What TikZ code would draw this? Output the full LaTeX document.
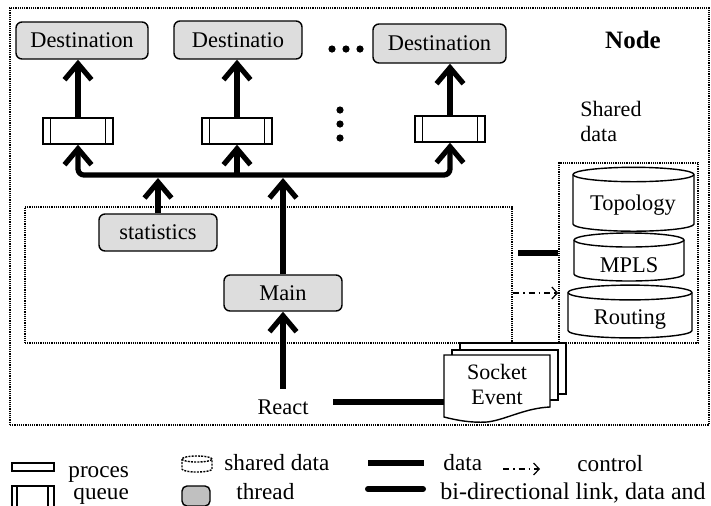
\documentclass[tikz,border=0pt]{standalone}
\usepackage{fontspec}
\setmainfont{Liberation Serif}
\usetikzlibrary{arrows.meta,calc}
\definecolor{boxgray}{HTML}{DDDDDD}
\definecolor{legendgray}{HTML}{C0C0C0}

\begin{document}
\begin{tikzpicture}[x=0.5pt,y=-0.5pt,
  font=\fontsize{11.2}{13}\selectfont,
  thin line/.style={line width=0.7pt},
  thread/.style={draw, thin line, rounded corners=3pt, fill=boxgray, inner sep=0pt},
  queuebox/.style={draw, thin line, fill=white, minimum width=35pt, minimum height=13pt, inner sep=0pt,
    path picture={\draw[thin line]
      ([xshift=3.7pt]path picture bounding box.north west) -- ([xshift=3.7pt]path picture bounding box.south west)
      ([xshift=-3.7pt]path picture bounding box.north east) -- ([xshift=-3.7pt]path picture bounding box.south east);}},
  dotbox/.style={draw, line width=0.8pt, dash pattern=on 0.6pt off 0.5pt, inner sep=0pt},
  heavy/.style={line width=2.6pt},
  arr/.style={heavy, -{Straight Barb[length=8pt,width=13.5pt]}},
  ctl/.style={line width=0.6pt, dash pattern=on 3pt off 2pt on 0.8pt off 2pt,
    -{Straight Barb[length=2.8pt,width=6pt,line width=0.6pt]}},
  cyl/.style={draw, thin line, fill=white},
  legend/.style={font=\fontsize{11.6}{14}\selectfont, anchor=base west, inner sep=0pt},
]
\useasboundingbox (0,0) rectangle (711,505);

% enclosing node frame and its inner regions
\node[dotbox, minimum width=349.5pt, minimum height=208.5pt] (outer) at (359.5,216.5) {};
\node[dotbox, minimum width=243.5pt, minimum height=68pt] (inner) at (268.5,275) {};
\node[dotbox, minimum width=69.5pt, minimum height=90pt] (shared) at (628.5,253) {};

\node[font=\bfseries\fontsize{12.5}{15}\selectfont] (nodelabel) at (633,40) {Node};
\node[anchor=west, align=left, inner sep=0pt, font=\fontsize{11}{12.5}\selectfont] (sharedtitle) at (580,121) {Shared\\data};

% destination threads
\node[thread, minimum width=66pt, minimum height=18.5pt] (d1) at (82,40.5) {Destination};
\node[thread, minimum width=64pt, minimum height=19pt] (d2) at (238,40) {Destinatio};
\node[thread, minimum width=66.5pt, minimum height=19.5pt] (d3) at (439.5,43.5) {Destination};

% queues
\node[queuebox] (q1) at (78,131) {};
\node[queuebox] (q2) at (237,131) {};
\node[queuebox] (q3) at (450,129) {};

% ellipsis dots
\foreach \x in {332,346,360} \fill (\x,49) circle[radius=1.8pt];
\foreach \y in {110,124,138} \fill (340,\y) circle[radius=1.8pt];

% queue to destination
\draw[arr] (q1.north) -- (q1.north |- d1.south);
\draw[arr] (q2.north) -- (q2.north |- d2.south);
\draw[arr] (q3.north) -- (q3.north |- d3.south);

% distribution bus
\coordinate (bus) at (0,175);
\draw[heavy, rounded corners=3pt, {Straight Barb[length=8pt,width=13.5pt]}-{Straight Barb[length=8pt,width=13.5pt]}]
  (q1.south) -- (q1.south |- bus) -- (q3.south |- bus) -- (q3.south);
\draw[arr] (q2.south |- bus) -- (q2.south);

% worker threads
\node[thread, minimum width=59pt, minimum height=18.5pt] (stats) at (158,232.5) {statistics};
\node[thread, minimum width=59pt, minimum height=18pt] (main) at (283,293) {Main};
\draw[arr, shorten >=1.5pt] (stats.north) -- (stats.north |- bus);
\draw[arr, shorten >=1.5pt] (main.north) -- (main.north |- bus);

\node (react) at (283,407) {React};
\draw[arr, shorten <=2pt] (react.north) -- (main.south);

% shared data stores
\draw[cyl] (573,174.5) -- (573,224) arc[start angle=180,end angle=360,x radius=30.25pt,y radius=3.6pt]
  -- (694,174.5) arc[start angle=0,end angle=180,x radius=30.25pt,y radius=3.6pt] -- cycle;
\draw[thin line] (573,174.5) arc[start angle=180,end angle=360,x radius=30.25pt,y radius=3.6pt];
\draw[cyl] (574,240) -- (574,274) arc[start angle=180,end angle=360,x radius=27.5pt,y radius=3.5pt]
  -- (684,240) arc[start angle=0,end angle=180,x radius=27.5pt,y radius=3.5pt] -- cycle;
\draw[thin line] (574,240) arc[start angle=180,end angle=360,x radius=27.5pt,y radius=3.5pt];
\draw[cyl] (568,292.5) -- (568,330.5) arc[start angle=180,end angle=360,x radius=31pt,y radius=3.7pt]
  -- (692,292.5) arc[start angle=0,end angle=180,x radius=31pt,y radius=3.7pt] -- cycle;
\draw[thin line] (568,292.5) arc[start angle=180,end angle=360,x radius=31pt,y radius=3.7pt];
\node (topo) at (633,205) {Topology};
\node (mpls) at (629,265) {MPLS};
\node (rout) at (630,319) {Routing};

% links between threads and shared data
\coordinate (datalink) at (518,253);
\draw[heavy] (datalink) -- (datalink -| shared.west);
\coordinate (ctllink) at (513,293);
\draw[ctl] (ctllink) -- (ctllink -| shared.west);

% socket event stack
\draw[thin line, fill=white] (460,343) -- (566,343) -- (566,394) -- (460,394) -- cycle;
\draw[thin line, fill=white] (452,350) -- (558,350) -- (558,400) -- (452,400) -- cycle;
\draw[thin line, fill=white] (444,355) -- (550,355) -- (550,407)
  .. controls (525,408) and (505,420) .. (487,422) .. controls (470,423) and (456,420) .. (444,417) -- cycle;
\node[align=center, minimum width=53pt, inner sep=0pt, font=\fontsize{11}{12.5}\selectfont] (sock) at (497,384) {Socket\\Event};
\coordinate (reactlink) at (333,402);
\draw[heavy] (reactlink) -- (reactlink -| sock.west);

% legend
\draw[thin line] (12,463) rectangle (54,471);
\node[legend] (lproc) at (68,477) {proces};
\draw[thin line] (12,506) -- (12,486) -- (54,486) -- (54,506) (17,486) -- (17,506) (48,486) -- (48,506);
\node[legend] (lqueue) at (73,499) {queue};
\draw[thin line, dash pattern=on 1pt off 0.6pt, fill=white] (182,459) -- (182,469)
  arc[start angle=180,end angle=360,x radius=7.5pt,y radius=1.5pt] -- (212,459)
  arc[start angle=0,end angle=180,x radius=7.5pt,y radius=1.5pt] -- cycle;
\draw[thin line, dash pattern=on 1pt off 0.6pt] (182,459) arc[start angle=180,end angle=360,x radius=7.5pt,y radius=1.5pt];
\node[legend] (lshared) at (224,470) {shared data};
\draw[thin line, fill=legendgray, rounded corners=2.5pt] (182,486) rectangle (210,506);
\node[legend] (lthread) at (236,499) {thread};
\coordinate (ldata) at (368,463);
\draw[line width=3pt] (ldata) -- ++(56,0);
\node[legend] (ldatatext) at (443,470) {data};
\coordinate (lctl) at (503,469);
\draw[ctl] (lctl) -- ++(37,0);
\node[legend] (lctltext) at (577,471) {control};
\coordinate (lbi) at (368,489);
\draw[line width=3pt, line cap=round] (lbi) -- ++(55,0);
\node[legend, font=\fontsize{12}{14}\selectfont] (lbitext) at (440,499) {bi-directional link, data and};
\end{tikzpicture}
\end{document}
